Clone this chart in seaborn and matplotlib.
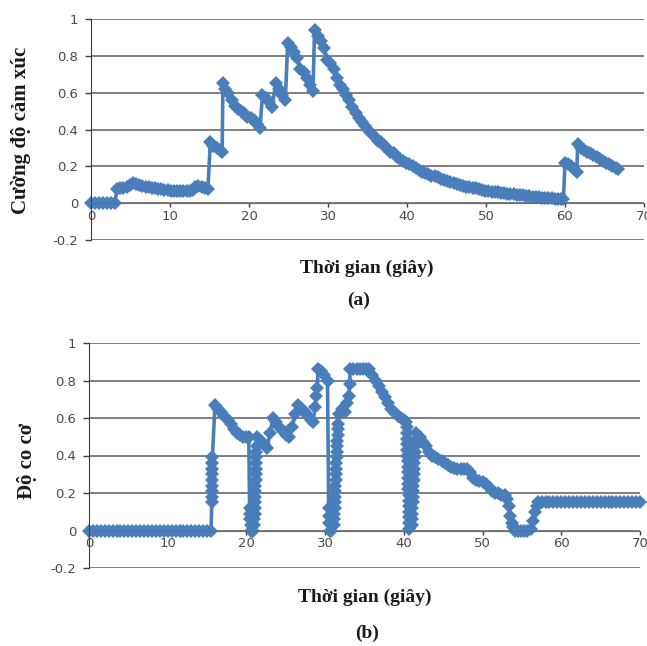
import matplotlib
matplotlib.use("Agg")
import matplotlib.pyplot as plt
import seaborn as sns
import pandas as pd

sns.set_style("white")
plt.rcParams['font.family'] = ['DejaVu Sans']

BLUE = "#4A7EBB"
GRID = "#6a6a6a"

# ---- (a) Cường độ cảm xúc ----
a_t1 = [0, 0.5, 1, 1.5, 2, 2.5, 3]
a_v1 = [0, 0, 0, 0, 0, 0, 0]
a_t2 = [3.3, 3.7, 4.1, 4.5, 4.9, 5.3, 5.7, 6.1, 6.5, 6.9, 7.3, 7.7, 8.1, 8.5, 8.9,
        9.3, 9.7, 10.1, 10.5, 10.9, 11.3, 11.7, 12.1, 12.5, 12.9]
a_v2 = [0.075, 0.08, 0.085, 0.09, 0.1, 0.11, 0.105, 0.1, 0.095, 0.09, 0.088, 0.085, 0.08, 0.078, 0.075,
        0.072, 0.07, 0.068, 0.067, 0.066, 0.065, 0.065, 0.066, 0.068, 0.07]
a_t3 = [13.2, 13.6, 14.0, 14.4, 14.8, 15.1, 15.5, 15.9, 16.3, 16.6]
a_v3 = [0.09, 0.092, 0.088, 0.082, 0.078, 0.33, 0.31, 0.3, 0.29, 0.28]
a_t4 = [16.7, 17.0, 17.4, 17.8, 18.2, 18.6, 19.0, 19.4, 19.8, 20.2, 20.6, 21.0, 21.4,
        21.7, 22.1, 22.5, 22.9, 23.4, 23.8, 24.2, 24.6]
a_v4 = [0.65, 0.62, 0.6, 0.56, 0.53, 0.51, 0.5, 0.49, 0.47, 0.46, 0.45, 0.43, 0.41,
        0.59, 0.57, 0.55, 0.52, 0.65, 0.62, 0.59, 0.56]
a_t5 = [24.9, 25.3, 25.7, 26.1, 26.5, 26.9, 27.3, 27.7, 28.1]
a_v5 = [0.87, 0.85, 0.82, 0.79, 0.73, 0.71, 0.68, 0.64, 0.61]
a_t6 = [28.3, 28.7, 29.1, 29.5, 29.9, 30.3, 30.7, 31.1, 31.5, 31.9, 32.3, 32.7, 33.1, 33.5, 33.9,
        34.3, 34.7, 35.1, 35.5, 35.9, 36.3, 36.7, 37.1, 37.5, 37.9, 38.3, 38.7, 39.1, 39.5, 39.9]
a_v6 = [0.94, 0.91, 0.88, 0.84, 0.78, 0.76, 0.73, 0.68, 0.64, 0.62, 0.59, 0.56, 0.52, 0.49, 0.46,
        0.44, 0.42, 0.4, 0.38, 0.36, 0.34, 0.33, 0.31, 0.3, 0.28, 0.27, 0.25, 0.24, 0.23, 0.22]
a_t7 = [40.3, 40.7, 41.1, 41.5, 41.9, 42.3, 42.7, 43.1, 43.5, 43.9, 44.3, 44.7, 45.1, 45.5, 45.9,
        46.3, 46.7, 47.1, 47.5, 47.9, 48.3, 48.7, 49.1, 49.5, 49.9]
a_v7 = [0.21, 0.2, 0.19, 0.18, 0.17, 0.165, 0.16, 0.15, 0.145, 0.14, 0.13, 0.125, 0.12, 0.115, 0.11,
        0.105, 0.1, 0.095, 0.09, 0.087, 0.083, 0.08, 0.076, 0.072, 0.068]
a_t8 = [50.3, 50.7, 51.1, 51.5, 51.9, 52.3, 52.7, 53.1, 53.5, 53.9, 54.3, 54.7, 55.1, 55.5, 55.9,
        56.3, 56.7, 57.1, 57.5, 57.9, 58.3, 58.7, 59.1, 59.5, 59.8]
a_v8 = [0.065, 0.063, 0.06, 0.058, 0.056, 0.054, 0.052, 0.05, 0.048, 0.046, 0.044, 0.042, 0.04, 0.038, 0.036,
        0.034, 0.032, 0.03, 0.028, 0.027, 0.026, 0.025, 0.024, 0.022, 0.02]
a_t9 = [60.0, 60.4, 60.8, 61.2, 61.5, 61.6, 62.0, 62.4, 62.8, 63.2, 63.6, 64.0, 64.4, 64.8,
        65.2, 65.6, 66.0, 66.4, 66.7]
a_v9 = [0.22, 0.21, 0.2, 0.185, 0.17, 0.32, 0.3, 0.29, 0.28, 0.27, 0.26, 0.25, 0.24, 0.23,
        0.22, 0.21, 0.2, 0.19, 0.185]

# ---- (b) Độ co cơ ----
b_t1 = [0, 0.5, 1, 1.5, 2, 2.5, 3, 3.5, 4, 4.5, 5, 5.5, 6, 6.5, 7, 7.5,
        8, 8.5, 9, 9.5, 10, 10.5, 11, 11.5, 12, 12.5, 13, 13.5, 14, 14.5, 15, 15.5]
b_v1 = [0, 0, 0, 0, 0, 0, 0, 0, 0, 0, 0, 0, 0, 0, 0, 0,
        0, 0, 0, 0, 0, 0, 0, 0, 0, 0, 0, 0, 0, 0, 0, 0]
b_t2 = [15.6, 15.6, 15.62, 15.62, 15.64, 15.64, 15.66, 15.66, 15.68,
        16.0, 16.4, 16.8, 17.2, 17.6, 18.0, 18.4, 18.8, 19.2, 19.6, 20.0, 20.3]
b_v2 = [0.15, 0.18, 0.21, 0.24, 0.27, 0.3, 0.33, 0.36, 0.39,
        0.67, 0.65, 0.63, 0.61, 0.59, 0.57, 0.54, 0.52, 0.51, 0.5, 0.5, 0.5]
b_t3 = [20.4, 20.45, 20.5, 20.55, 20.6, 20.7, 20.8,
        21.0, 21.02, 21.04, 21.06, 21.08, 21.1, 21.12, 21.14, 21.16, 21.18, 21.2, 21.22, 21.24, 21.26, 21.28]
b_v3 = [0.12, 0.09, 0.06, 0.03, 0.0, 0.0, 0.0,
        0.03, 0.06, 0.09, 0.12, 0.15, 0.18, 0.21, 0.24, 0.27, 0.3, 0.33, 0.36, 0.39, 0.42, 0.45]
b_t4 = [21.4, 21.8, 22.2, 22.6, 23.0, 23.4, 23.8, 24.2, 24.6, 25.0, 25.4, 25.8, 26.2, 26.6,
        27.0, 27.4, 27.8, 28.2, 28.5, 28.7, 28.9, 29.0, 29.1, 29.5, 29.9, 30.3]
b_v4 = [0.5, 0.48, 0.46, 0.44, 0.52, 0.6, 0.58, 0.55, 0.53, 0.51, 0.5, 0.55, 0.62, 0.67,
        0.65, 0.63, 0.61, 0.59, 0.58, 0.66, 0.72, 0.76, 0.86, 0.85, 0.83, 0.8]
b_t5 = [30.45, 30.5, 30.55, 30.6, 30.7,
        31.1, 31.13, 31.16, 31.19, 31.22, 31.25, 31.28, 31.31, 31.34, 31.37, 31.4, 31.43, 31.46,
        31.49, 31.52, 31.55, 31.58, 31.61, 31.64]
b_v5 = [0.12, 0.08, 0.04, 0.0, 0.0,
        0.03, 0.06, 0.09, 0.12, 0.15, 0.18, 0.21, 0.24, 0.27, 0.3, 0.33, 0.36, 0.39,
        0.42, 0.45, 0.48, 0.51, 0.54, 0.57]
b_t6 = [31.8, 32.1, 32.5, 32.8, 33.0, 33.1, 33.2, 33.6, 34.0, 34.4, 34.8, 35.2, 35.6, 36.0,
        36.4, 36.8, 37.2, 37.6, 38.0, 38.4, 38.8, 39.2, 39.6, 40.0, 40.3]
b_v6 = [0.62, 0.65, 0.63, 0.68, 0.72, 0.78, 0.86, 0.86, 0.86, 0.86, 0.86, 0.86, 0.86, 0.83,
        0.8, 0.77, 0.74, 0.71, 0.68, 0.65, 0.63, 0.61, 0.6, 0.59, 0.58]
b_t7 = [40.35, 40.37, 40.39, 40.41, 40.43, 40.45, 40.47, 40.49, 40.51, 40.53, 40.55, 40.57,
        40.59, 40.61, 40.63, 40.65, 40.67, 40.69, 40.71,
        41.0, 41.03, 41.06, 41.09, 41.12, 41.15, 41.18, 41.21, 41.24, 41.27, 41.3, 41.33,
        41.36, 41.39, 41.42, 41.45]
b_v7 = [0.55, 0.52, 0.49, 0.46, 0.43, 0.4, 0.37, 0.34, 0.31, 0.28, 0.25, 0.22,
        0.19, 0.16, 0.13, 0.1, 0.07, 0.04, 0.01,
        0.03, 0.06, 0.09, 0.12, 0.15, 0.18, 0.21, 0.24, 0.27, 0.3, 0.33, 0.36,
        0.39, 0.42, 0.45, 0.48]
b_t8 = [41.6, 42.0, 42.4, 42.8, 43.2, 43.6, 44.0, 44.4, 44.8, 45.2, 45.6, 46.0, 46.4, 46.8,
        47.2, 47.6, 48.0, 48.4, 48.8, 49.2, 49.6, 50.0, 50.4, 50.8, 51.2, 51.6, 52.0, 52.4,
        52.8, 53.1, 53.3, 53.5, 53.7, 53.9, 54.1, 54.5, 54.9, 55.3, 55.7, 56.1, 56.4, 56.7, 56.9]
b_v8 = [0.52, 0.5, 0.47, 0.45, 0.42, 0.4, 0.39, 0.38, 0.37, 0.36, 0.35, 0.34, 0.335, 0.33,
        0.33, 0.33, 0.33, 0.31, 0.28, 0.27, 0.265, 0.26, 0.25, 0.23, 0.21, 0.2, 0.2, 0.19,
        0.19, 0.17, 0.13, 0.08, 0.04, 0.02, 0.0, 0.0, 0.0, 0.0, 0.0, 0.01, 0.05, 0.1, 0.13]
b_t9 = [57.0, 57.5, 58.0, 58.5, 59.0, 59.5, 60.0, 60.5, 61.0, 61.5, 62.0, 62.5, 63.0, 63.5,
        64.0, 64.5, 65.0, 65.5, 66.0, 66.5, 67.0, 67.5, 68.0, 68.5, 69.0, 69.5, 70.0]
b_v9 = [0.15, 0.15, 0.15, 0.15, 0.15, 0.15, 0.15, 0.15, 0.15, 0.15, 0.15, 0.15, 0.15, 0.15,
        0.15, 0.15, 0.15, 0.15, 0.15, 0.15, 0.15, 0.15, 0.15, 0.15, 0.15, 0.15, 0.15]

x_ticks = [0, 10, 20, 30, 40, 50, 60, 70]
y_ticks = [-0.2, 0, 0.2, 0.4, 0.6, 0.8, 1]
y_labels = ['-0.2', '0', '0.2', '0.4', '0.6', '0.8', '1']

df_a = pd.DataFrame({
    't': a_t1 + a_t2 + a_t3 + a_t4 + a_t5 + a_t6 + a_t7 + a_t8 + a_t9,
    'v': a_v1 + a_v2 + a_v3 + a_v4 + a_v5 + a_v6 + a_v7 + a_v8 + a_v9,
})
df_b = pd.DataFrame({
    't': b_t1 + b_t2 + b_t3 + b_t4 + b_t5 + b_t6 + b_t7 + b_t8 + b_t9,
    'v': b_v1 + b_v2 + b_v3 + b_v4 + b_v5 + b_v6 + b_v7 + b_v8 + b_v9,
})

fig = plt.figure(figsize=(6.47, 6.46), dpi=100)
ax1 = fig.add_axes([91 / 647, 1 - 240 / 646, 553 / 647, 221 / 646])
ax2 = fig.add_axes([89 / 647, 1 - 568 / 646, 551 / 647, 225 / 646])


def style(ax):
    ax.set_xlim(0, 70)
    ax.set_ylim(-0.2, 1)
    ax.set_xticks(x_ticks)
    ax.set_xticklabels([str(x) for x in x_ticks])
    ax.set_yticks(y_ticks)
    ax.set_yticklabels(y_labels)
    ax.spines['top'].set_visible(False)
    ax.spines['right'].set_visible(False)
    ax.spines['bottom'].set_position(('data', 0))
    ax.spines['bottom'].set_color(GRID)
    ax.spines['left'].set_color('#3c3c3c')
    ax.yaxis.grid(True, color=GRID, linewidth=1.2)
    ax.xaxis.grid(False)
    ax.set_axisbelow(True)
    ax.tick_params(axis='y', left=True, direction='out', length=4, width=1,
                   color='#3c3c3c', pad=5, labelsize=9.5, labelcolor='#4a4a4a')
    ax.tick_params(axis='x', bottom=True, direction='out', length=3, width=1,
                   color='#3c3c3c', pad=2, labelsize=9.5, labelcolor='#4a4a4a')
    ax.set_xlabel('')
    ax.set_ylabel('')


for ax, df in [(ax1, df_a), (ax2, df_b)]:
    sns.lineplot(data=df, x='t', y='v', ax=ax, estimator=None, sort=False,
                 color=BLUE, linewidth=2.6, marker='D', markersize=7,
                 markeredgewidth=0, clip_on=False)
    style(ax)

serif = dict(family='Liberation Serif', weight='bold', color='#1a1a1a')
fig.text(367 / 647, 1 - 268 / 646, 'Thời gian (giây)', ha='center', va='center', fontsize=14, **serif)
fig.text(359 / 647, 1 - 300 / 646, '(a)', ha='center', va='center', fontsize=14, **serif)
fig.text(21 / 647, 1 - 130 / 646, 'Cường độ cảm xúc', ha='center', va='center', rotation=90, fontsize=15, **serif)
fig.text(365 / 647, 1 - 597 / 646, 'Thời gian (giây)', ha='center', va='center', fontsize=14, **serif)
fig.text(367 / 647, 1 - 633 / 646, '(b)', ha='center', va='center', fontsize=14, **serif)
fig.text(27 / 647, 1 - 461 / 646, 'Độ co cơ', ha='center', va='center', rotation=90, fontsize=15, **serif)

fig.savefig('out.png', dpi=100)
